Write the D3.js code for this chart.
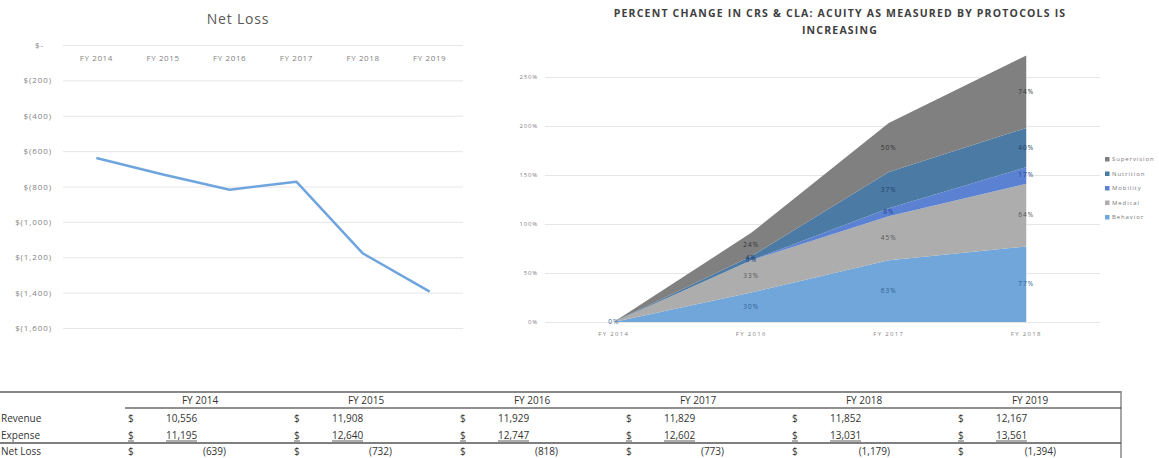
<!DOCTYPE html>
<html>
<meta charset="utf-8">
<head>
	<script src="https://d3js.org/d3.v7.min.js"></script>
	<style>
		body { margin: 0; background: #fff; }
		svg { display: block; font-family: "Open Sans", "Liberation Sans", sans-serif; }
		.grid line { stroke: #e6e6e6; stroke-width: 1px; }
		.grid path { display: none; }
		.tick-lbl { fill: #7f7f7f; }
	</style>
</head>
<body>
<script>
	var width = 1159,
			height = 458;

	// net loss chart
	var years = ["FY 2014", "FY 2015", "FY 2016", "FY 2017", "FY 2018", "FY 2019"];
	var revenue = [10556, 11908, 11929, 11829, 11852, 12167];
	var expense = [11195, 12640, 12747, 12602, 13031, 13561];
	var netLoss = [-639, -732, -818, -773, -1179, -1394];
	var lossTicks = [0, -200, -400, -600, -800, -1000, -1200, -1400, -1600];

	// acuity area chart
	var acuityYears = ["FY 2014", "FY 2016", "FY 2017", "FY 2018"];
	var acuityKeys = ["Behavior", "Medical", "Mobility", "Nutrition", "Supervision"];
	var behavior = [0, 30, 63, 77];
	var medical = [0, 33, 45, 64];
	var mobility = [0, 0, 8, 17];
	var nutrition = [0, 4, 37, 40];
	var supervision = [0, 24, 50, 74];
	var pctTicks = [0, 50, 100, 150, 200, 250];

	var svg = d3.select("body").append("svg")
		.attr("width", width)
		.attr("height", height);

	// ---------- left: Net Loss line ----------
	var x1 = d3.scaleBand().domain(years).range([63, 463]);
	var y1 = d3.scaleLinear().domain([0, -1600]).range([45, 328]);

	svg.append("text")
		.attr("x", 238).attr("y", 24)
		.attr("text-anchor", "middle")
		.attr("font-size", 14)
		.attr("letter-spacing", 0.8)
		.attr("fill", "#595959")
		.text("Net Loss");

	svg.append("g").attr("class", "grid")
		.attr("transform", "translate(63,0)")
		.call(d3.axisLeft(y1).tickValues(lossTicks).tickSize(-400).tickFormat(""));

	lossTicks.forEach(function(t) {
		svg.append("text")
			.attr("class", "tick-lbl")
			.attr("x", t === 0 ? 44 : 52)
			.attr("y", y1(t) + 3)
			.attr("text-anchor", "end")
			.attr("font-size", 8)
			.attr("letter-spacing", 0.9)
			.text(t === 0 ? "$-" : "$(" + d3.format(",")(-t) + ")");
	});

	years.forEach(function(yr) {
		svg.append("text")
			.attr("class", "tick-lbl")
			.attr("x", x1(yr) + x1.bandwidth() / 2)
			.attr("y", 61)
			.attr("text-anchor", "middle")
			.attr("font-size", 8)
			.attr("letter-spacing", 0.6)
			.text(yr);
	});

	var line = d3.line()
		.x(function(d, i) { return x1(years[i]) + x1.bandwidth() / 2; })
		.y(function(d) { return y1(d); });

	svg.append("path")
		.datum(netLoss)
		.attr("d", line)
		.attr("fill", "none")
		.attr("stroke", "#6fa5de")
		.attr("stroke-width", 2.5)
		.attr("stroke-linejoin", "round");

	// ---------- right: stacked area ----------
	var x2 = d3.scalePoint().domain(acuityYears).range([545, 1095]).padding(0.5);
	var y2 = d3.scaleLinear().domain([0, 250]).range([322, 77]);

	svg.append("text")
		.attr("x", 840).attr("y", 17)
		.attr("text-anchor", "middle")
		.attr("font-size", 10.5)
		.attr("letter-spacing", 1.2)
		.attr("font-weight", "bold")
		.attr("fill", "#404040")
		.text("PERCENT CHANGE IN CRS & CLA: ACUITY AS MEASURED BY PROTOCOLS IS");
	svg.append("text")
		.attr("x", 840).attr("y", 34)
		.attr("text-anchor", "middle")
		.attr("font-size", 10.5)
		.attr("letter-spacing", 1.2)
		.attr("font-weight", "bold")
		.attr("fill", "#404040")
		.text("INCREASING");

	svg.append("g").attr("class", "grid")
		.attr("transform", "translate(545,0)")
		.call(d3.axisLeft(y2).tickValues(pctTicks).tickSize(-555).tickFormat(""));

	pctTicks.forEach(function(t) {
		svg.append("text")
			.attr("class", "tick-lbl")
			.attr("x", 538)
			.attr("y", y2(t) + 2)
			.attr("text-anchor", "end")
			.attr("font-size", 6)
			.attr("letter-spacing", 0.8)
			.text(t + "%");
	});

	acuityYears.forEach(function(yr) {
		svg.append("text")
			.attr("class", "tick-lbl")
			.attr("x", x2(yr))
			.attr("y", 336)
			.attr("text-anchor", "middle")
			.attr("font-size", 6)
			.attr("letter-spacing", 1.3)
			.text(yr);
	});

	var rows = acuityYears.map(function(yr, i) {
		return { year: yr, Behavior: behavior[i], Medical: medical[i], Mobility: mobility[i],
			Nutrition: nutrition[i], Supervision: supervision[i] };
	});
	var series = d3.stack().keys(acuityKeys)(rows);

	var fills = { Behavior: "#70a6da", Medical: "#adadad", Mobility: "#5b82d2", Nutrition: "#4b7aa4", Supervision: "#808080" };
	var labelCols = { Behavior: "#2f5f93", Medical: "#555555", Mobility: "#1f3f8f", Nutrition: "#1e3f66", Supervision: "#333333" };

	var area = d3.area()
		.x(function(d) { return x2(d.data.year); })
		.y0(function(d) { return y2(d[0]); })
		.y1(function(d) { return y2(d[1]); });

	svg.selectAll(".layer")
		.data(series).enter()
		.append("path")
		.attr("class", "layer")
		.attr("d", area)
		.attr("fill", function(d) { return fills[d.key]; });

	series.forEach(function(s) {
		s.forEach(function(d) {
			if (d.data.year === "FY 2014" && s.key !== "Behavior") return;
			svg.append("text")
				.attr("x", x2(d.data.year))
				.attr("y", y2((d[0] + d[1]) / 2) + 2)
				.attr("text-anchor", "middle")
				.attr("font-size", 6.5)
				.attr("letter-spacing", 1)
				.attr("fill", labelCols[s.key])
				.text(d.data[s.key] + "%");
		});
	});

	// legend
	acuityKeys.slice().reverse().forEach(function(k, i) {
		var ly = 161 + i * 14.5;
		svg.append("rect")
			.attr("x", 1105).attr("y", ly - 4)
			.attr("width", 4.5).attr("height", 4.5)
			.attr("fill", fills[k]);
		svg.append("text")
			.attr("x", 1112).attr("y", ly)
			.attr("font-size", 6)
			.attr("letter-spacing", 0.9)
			.attr("fill", "#7a7a7a")
			.text(k);
	});

	// ---------- bottom table ----------
	var tbl = svg.append("g").attr("font-size", 10).attr("fill", "#333");
	var colX = d3.scaleBand().domain(years).range([125, 1121]);

	tbl.append("line").attr("x1", 0).attr("x2", 1121).attr("y1", 392).attr("y2", 392)
		.attr("stroke", "#888").attr("stroke-width", 2);
	tbl.append("line").attr("x1", 1121).attr("x2", 1121).attr("y1", 391).attr("y2", 458)
		.attr("stroke", "#888").attr("stroke-width", 1.5);
	tbl.append("line").attr("x1", 125).attr("x2", 1121).attr("y1", 408).attr("y2", 408)
		.attr("stroke", "#222").attr("stroke-width", 1);
	tbl.append("line").attr("x1", 0).attr("x2", 1121).attr("y1", 443).attr("y2", 443)
		.attr("stroke", "#555").attr("stroke-width", 1.5);

	years.forEach(function(yr, i) {
		var cx = colX(yr);
		var bw = colX.bandwidth();
		tbl.append("text").attr("x", cx + bw / 2 - 8).attr("y", 404)
			.attr("text-anchor", "middle").text(yr);
		[[revenue[i], 422], [expense[i], 439]].forEach(function(r) {
			tbl.append("text").attr("x", cx + 3).attr("y", r[1]).text("$");
			tbl.append("text").attr("x", cx + 41).attr("y", r[1]).text(d3.format(",")(r[0]));
		});
		tbl.append("line").attr("x1", cx + 3).attr("x2", cx + 9).attr("y1", 441).attr("y2", 441)
			.attr("stroke", "#333").attr("stroke-width", 0.8);
		tbl.append("line").attr("x1", cx + 41).attr("x2", cx + 72).attr("y1", 441).attr("y2", 441)
			.attr("stroke", "#333").attr("stroke-width", 0.8);
		tbl.append("text").attr("x", cx + 3).attr("y", 455).text("$");
		tbl.append("text").attr("x", cx + 101).attr("y", 455)
			.attr("text-anchor", "end").text("(" + d3.format(",")(-netLoss[i]) + ")");
	});

	["Revenue", "Expense", "Net Loss"].forEach(function(lbl, i) {
		tbl.append("text").attr("x", 1).attr("y", [422, 439, 455][i]).text(lbl);
	});
</script>
</body>
</html>
